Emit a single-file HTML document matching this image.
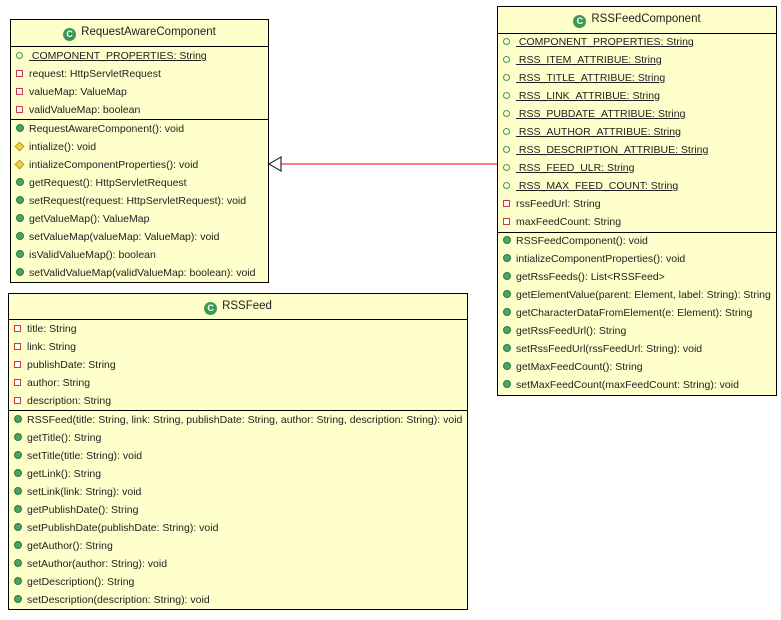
<!DOCTYPE html>
<html><head><meta charset="utf-8"><style>
body{margin:0;width:781px;height:620px;background:#fff;position:relative;overflow:hidden;font-family:"Liberation Sans",sans-serif;font-size:10.5px;color:#222;}
.box{position:absolute;background:#ffffcc;border:1px solid #000;box-sizing:border-box;}
.t{position:absolute;left:0;right:0;text-align:center;font-size:11.5px;}
.t i{display:inline-block;width:13px;height:13px;border-radius:50%;background:#3a9a55;color:#fff;font-style:normal;font-weight:bold;font-size:9px;line-height:13px;text-align:center;vertical-align:-2px;margin-right:5px;}
.sep{position:absolute;left:0;right:0;border-top:1px solid #000;}
.r{position:absolute;left:5px;white-space:nowrap;line-height:14px;}
.r b{display:inline-block;width:13px;}
.pub{display:inline-block;width:8px;height:8px;border-radius:50%;background:#4aa565;border:1px solid #2f7a44;box-sizing:border-box;}
.st{display:inline-block;width:7px;height:7px;border-radius:50%;border:1.5px solid #3a9a55;box-sizing:border-box;}
.pri{display:inline-block;width:7px;height:7px;background:#fff;border:1.5px solid #c8374a;box-sizing:border-box;}
.pro{display:inline-block;width:7px;height:7px;background:#f2d04a;border:1px solid #b99a20;transform:rotate(45deg);box-sizing:border-box;}
u{text-decoration:underline;}
</style></head><body>

<svg style="position:absolute;left:0;top:0" width="781" height="620">
<line x1="280" y1="164" x2="497" y2="164" stroke="#f00" stroke-width="1"/>
<polygon points="269,164 281,157 281,171" fill="#fff" stroke="#000" stroke-width="1"/>
</svg>

<div class="box" style="left:10px;top:19px;width:259px;height:264px;">
<div class="t" style="top:6px"><i>C</i>RequestAwareComponent</div>
<div class="sep" style="top:26px"></div>
<div class="r" style="top:29px"><b><span class="st"></span></b><u>&nbsp;COMPONENT_PROPERTIES: String</u></div>
<div class="r" style="top:47px"><b><span class="pri"></span></b>request: HttpServletRequest</div>
<div class="r" style="top:65px"><b><span class="pri"></span></b>valueMap: ValueMap</div>
<div class="r" style="top:83px"><b><span class="pri"></span></b>validValueMap: boolean</div>
<div class="sep" style="top:99px"></div>
<div class="r" style="top:102px"><b><span class="pub"></span></b>RequestAwareComponent(): void</div>
<div class="r" style="top:120px"><b><span class="pro"></span></b>intialize(): void</div>
<div class="r" style="top:138px"><b><span class="pro"></span></b>intializeComponentProperties(): void</div>
<div class="r" style="top:156px"><b><span class="pub"></span></b>getRequest(): HttpServletRequest</div>
<div class="r" style="top:174px"><b><span class="pub"></span></b>setRequest(request: HttpServletRequest): void</div>
<div class="r" style="top:192px"><b><span class="pub"></span></b>getValueMap(): ValueMap</div>
<div class="r" style="top:210px"><b><span class="pub"></span></b>setValueMap(valueMap: ValueMap): void</div>
<div class="r" style="top:228px"><b><span class="pub"></span></b>isValidValueMap(): boolean</div>
<div class="r" style="top:246px"><b><span class="pub"></span></b>setValidValueMap(validValueMap: boolean): void</div>
</div>

<div class="box" style="left:497px;top:6px;width:280px;height:390px;">
<div class="t" style="top:6px"><i>C</i>RSSFeedComponent</div>
<div class="sep" style="top:26px"></div>
<div class="r" style="top:28px"><b><span class="st"></span></b><u>&nbsp;COMPONENT_PROPERTIES: String</u></div>
<div class="r" style="top:46px"><b><span class="st"></span></b><u>&nbsp;RSS_ITEM_ATTRIBUE: String</u></div>
<div class="r" style="top:64px"><b><span class="st"></span></b><u>&nbsp;RSS_TITLE_ATTRIBUE: String</u></div>
<div class="r" style="top:82px"><b><span class="st"></span></b><u>&nbsp;RSS_LINK_ATTRIBUE: String</u></div>
<div class="r" style="top:100px"><b><span class="st"></span></b><u>&nbsp;RSS_PUBDATE_ATTRIBUE: String</u></div>
<div class="r" style="top:118px"><b><span class="st"></span></b><u>&nbsp;RSS_AUTHOR_ATTRIBUE: String</u></div>
<div class="r" style="top:136px"><b><span class="st"></span></b><u>&nbsp;RSS_DESCRIPTION_ATTRIBUE: String</u></div>
<div class="r" style="top:154px"><b><span class="st"></span></b><u>&nbsp;RSS_FEED_ULR: String</u></div>
<div class="r" style="top:172px"><b><span class="st"></span></b><u>&nbsp;RSS_MAX_FEED_COUNT: String</u></div>
<div class="r" style="top:190px"><b><span class="pri"></span></b>rssFeedUrl: String</div>
<div class="r" style="top:208px"><b><span class="pri"></span></b>maxFeedCount: String</div>
<div class="sep" style="top:225px"></div>
<div class="r" style="top:227px"><b><span class="pub"></span></b>RSSFeedComponent(): void</div>
<div class="r" style="top:245px"><b><span class="pub"></span></b>intializeComponentProperties(): void</div>
<div class="r" style="top:263px"><b><span class="pub"></span></b>getRssFeeds(): List&lt;RSSFeed&gt;</div>
<div class="r" style="top:281px"><b><span class="pub"></span></b>getElementValue(parent: Element, label: String): String</div>
<div class="r" style="top:299px"><b><span class="pub"></span></b>getCharacterDataFromElement(e: Element): String</div>
<div class="r" style="top:317px"><b><span class="pub"></span></b>getRssFeedUrl(): String</div>
<div class="r" style="top:335px"><b><span class="pub"></span></b>setRssFeedUrl(rssFeedUrl: String): void</div>
<div class="r" style="top:353px"><b><span class="pub"></span></b>getMaxFeedCount(): String</div>
<div class="r" style="top:371px"><b><span class="pub"></span></b>setMaxFeedCount(maxFeedCount: String): void</div>
</div>

<div class="box" style="left:8px;top:293px;width:460px;height:317px;">
<div class="t" style="top:6px"><i>C</i>RSSFeed</div>
<div class="sep" style="top:25px"></div>
<div class="r" style="top:28px"><b><span class="pri"></span></b>title: String</div>
<div class="r" style="top:46px"><b><span class="pri"></span></b>link: String</div>
<div class="r" style="top:64px"><b><span class="pri"></span></b>publishDate: String</div>
<div class="r" style="top:82px"><b><span class="pri"></span></b>author: String</div>
<div class="r" style="top:100px"><b><span class="pri"></span></b>description: String</div>
<div class="sep" style="top:116px"></div>
<div class="r" style="top:119px"><b><span class="pub"></span></b>RSSFeed(title: String, link: String, publishDate: String, author: String, description: String): void</div>
<div class="r" style="top:137px"><b><span class="pub"></span></b>getTitle(): String</div>
<div class="r" style="top:155px"><b><span class="pub"></span></b>setTitle(title: String): void</div>
<div class="r" style="top:173px"><b><span class="pub"></span></b>getLink(): String</div>
<div class="r" style="top:191px"><b><span class="pub"></span></b>setLink(link: String): void</div>
<div class="r" style="top:209px"><b><span class="pub"></span></b>getPublishDate(): String</div>
<div class="r" style="top:227px"><b><span class="pub"></span></b>setPublishDate(publishDate: String): void</div>
<div class="r" style="top:245px"><b><span class="pub"></span></b>getAuthor(): String</div>
<div class="r" style="top:263px"><b><span class="pub"></span></b>setAuthor(author: String): void</div>
<div class="r" style="top:281px"><b><span class="pub"></span></b>getDescription(): String</div>
<div class="r" style="top:299px"><b><span class="pub"></span></b>setDescription(description: String): void</div>
</div>

</body></html>
